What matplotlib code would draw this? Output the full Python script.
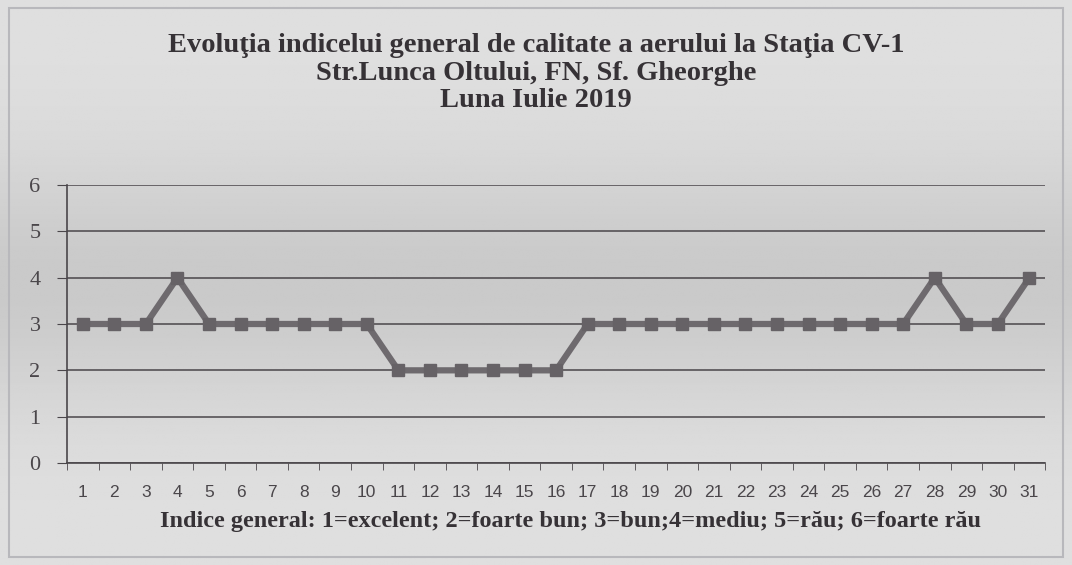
import numpy as np
import matplotlib
matplotlib.use("Agg")
import matplotlib.pyplot as plt
from matplotlib.patches import Rectangle

zile = list(range(1, 32))
indice = [3, 3, 3, 4, 3, 3, 3, 3, 3, 3,
          2, 2, 2, 2, 2, 2,
          3, 3, 3, 3, 3, 3, 3, 3, 3, 3, 3,
          4, 3, 3, 4]
titlu = ["Evoluţia indicelui general de calitate a aerului la Staţia CV-1",
         "Str.Lunca Oltului, FN, Sf. Gheorghe",
         "Luna Iulie 2019"]
eticheta_x = "Indice general: 1=excelent; 2=foarte bun; 3=bun;4=mediu; 5=rău; 6=foarte rău"

fig = plt.figure(figsize=(10.72, 5.65), dpi=100)
fig.patch.set_facecolor("#e6e6ea")

# fundal gri cu gradient (ca in scanare)
bg = fig.add_axes([0, 0, 1, 1], zorder=-10)
g = np.linspace(0, 1, 300)
prof = 0.875 - 0.085 * np.exp(-((g - 0.50) / 0.22) ** 2)
img = np.tile(prof[:, None], (1, 10))
bg.imshow(img, cmap="gray", vmin=0, vmax=1, aspect="auto", extent=[0, 1, 1, 0])
bg.add_patch(Rectangle((0.008, 0.015), 0.984, 0.97, fill=False, edgecolor="#b8b8bc", lw=1.5))
bg.set_xlim(0, 1)
bg.set_ylim(1, 0)
bg.axis("off")

ax = fig.add_axes([0.0625, 0.1805, 0.9125, 0.4921])
ax.set_facecolor("none")
ax.plot(zile, indice, color="#6e6a6e", lw=4.5, marker="s", ms=8,
        mfc="#666266", mec="#666266", solid_joinstyle="miter")

ax.set_xlim(0.5, 31.5)
ax.set_ylim(0, 6)
ax.set_yticks(range(0, 7))
ax.yaxis.grid(True, color="#4a464a", lw=1.1)
ax.set_axisbelow(True)
ax.set_xticks(zile)
ax.set_xticks(np.arange(0.5, 32, 1), minor=True)
ax.tick_params(axis="x", which="major", length=0, pad=16,
               labelsize=12.5, labelcolor="#4a464a")
ax.tick_params(axis="x", which="minor", length=5, color="#4a464a", direction="out")
ax.tick_params(axis="y", length=7, color="#4a464a", labelsize=16, labelcolor="#4a464a", pad=12)
for t in ax.get_xticklabels():
    t.set_fontfamily("Liberation Sans")
for t in ax.get_yticklabels():
    t.set_fontfamily("Liberation Serif")

for s in ["top", "right"]:
    ax.spines[s].set_visible(False)
ax.spines["left"].set_color("#4a464a")
ax.spines["bottom"].set_color("#4a464a")
ax.spines["left"].set_linewidth(1.2)
ax.spines["bottom"].set_linewidth(1.2)

for i, linie in enumerate(titlu):
    fig.text(0.5, 1 - (46 + 27 * i) / 565, linie, ha="center", va="center",
             fontsize=20.5, fontweight="bold", family="Liberation Serif",
             color="#363236")
fig.text(0.532, 1 - 521 / 565, eticheta_x, ha="center", va="center", fontsize=17.5,
         fontweight="bold", family="Liberation Serif", color="#363236")

fig.savefig("out.png", dpi=100, facecolor=fig.get_facecolor())
